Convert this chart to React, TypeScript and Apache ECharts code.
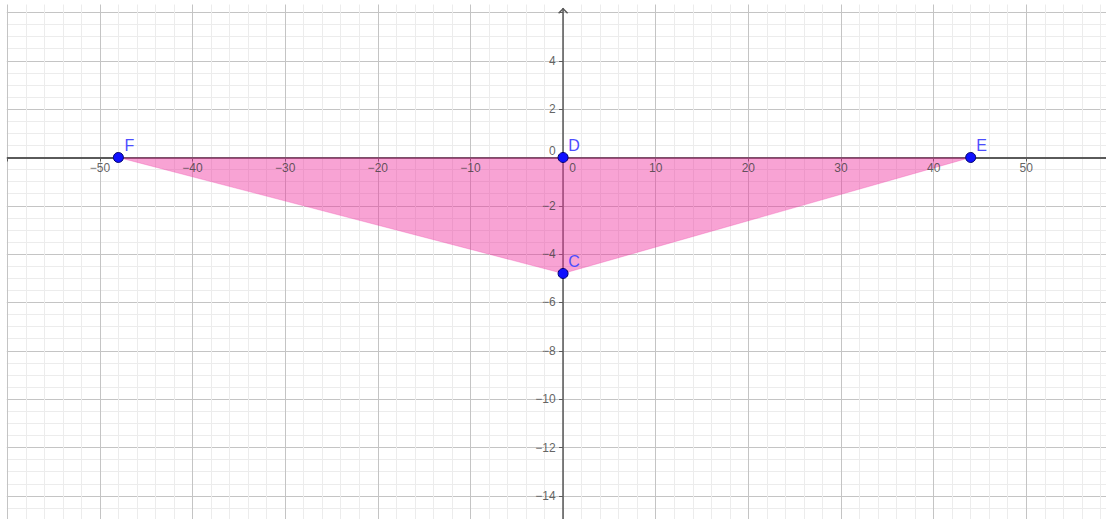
import React, { useEffect, useRef } from "react";
import * as echarts from "echarts";

// Points of the construction
const pointNames = ["F", "D", "E", "C"];
const pointX = [-48, 0, 44, 0];
const pointY = [0, 0, 0, -4.8];

// Polygon (triangle F-C-E), top edge lies on y = 0
const polyX = [-48, 0, 44];
const polyY = [0, -4.8, 0];

// Axis ranges / steps
const xRange = [-70, 60];
const yRange = [-16, 8];
const xStep = 10;
const yStep = 2;

// Tick labels shown along the axes
const xTickLabels = [-50, -40, -30, -20, -10, 0, 10, 20, 30, 40, 50];
const yTickLabels = [4, 2, 0, -2, -4, -6, -8, -10, -12, -14];

const fmt = (v: number) => (v < 0 ? "\u2212" + String(-v) : String(v));

export default function App() {
  const ref = useRef<HTMLDivElement>(null);
  useEffect(() => {
    const chart = echarts.init(ref.current!, null, { renderer: "svg" });
    const labelFont = "Liberation Sans, Arial, sans-serif";
    const tickLabelStyle = { color: "#3a3a3a", fontSize: 12, fontFamily: labelFont };
    chart.setOption({
      animation: false,
      backgroundColor: "#ffffff",
      grid: {
        left: -85.4,
        right: -12.9,
        top: -35.9,
        bottom: -25.2,
        containLabel: false,
        outerBoundsMode: "none",
      },
      xAxis: {
        type: "value",
        min: xRange[0],
        max: xRange[1],
        interval: xStep,
        axisLine: { onZero: true, lineStyle: { color: "#5a5a5a", width: 2 } },
        axisTick: { show: true, length: 4, lineStyle: { color: "#5a5a5a" } },
        minorTick: { show: false, splitNumber: 5 },
        splitLine: { show: true, lineStyle: { color: "#c4c4c4", width: 1 } },
        minorSplitLine: { show: true, lineStyle: { color: "#ececec", width: 1 } },
        axisLabel: { show: false },
      },
      yAxis: {
        type: "value",
        min: yRange[0],
        max: yRange[1],
        interval: yStep,
        axisLine: { onZero: true, lineStyle: { color: "#5a5a5a", width: 1.5 } },
        axisTick: { show: true, length: 4, lineStyle: { color: "#5a5a5a" } },
        minorTick: { show: false, splitNumber: 4 },
        splitLine: { show: true, lineStyle: { color: "#c4c4c4", width: 1 } },
        minorSplitLine: { show: true, lineStyle: { color: "#ececec", width: 1 } },
        axisLabel: { show: false },
      },
      graphic: [
        { type: "rect", shape: { x: 0, y: 0, width: 6.8, height: 519 }, style: { fill: "#fff" }, z: 100 },
        { type: "rect", shape: { x: 0, y: 0, width: 1106, height: 4.5 }, style: { fill: "#fff" }, z: 100 },
        { type: "rect", shape: { x: 561, y: 0, width: 4.5, height: 8 }, style: { fill: "#fff" }, z: 100 },
        {
          type: "polyline",
          shape: { points: [[558.6, 13.2], [563.1, 8.7], [567.6, 13.2]] },
          style: { stroke: "#5a5a5a", lineWidth: 1.5, fill: "none" },
          z: 101,
        },
      ],
      series: [
        {
          type: "line",
          data: polyX.map((x, i) => [x, polyY[i]]),
          symbol: "none",
          lineStyle: { width: 1, color: "rgba(240,60,165,0.3)" },
          areaStyle: { color: "rgba(240,50,160,0.45)", opacity: 1, origin: 0 },
          z: 2,
          silent: true,
        },
        {
          // x tick labels along y = 0
          type: "scatter",
          data: xTickLabels.map((v) => ({
            value: [v, 0],
            label: { offset: [v === 0 ? 9.5 : 0, 11] },
          })),
          symbolSize: 1,
          itemStyle: { color: "rgba(0,0,0,0)" },
          label: {
            show: true,
            position: "inside",
            ...tickLabelStyle,
            formatter: (p: any) => fmt(p.value[0]),
          },
          z: 3,
          silent: true,
        },
        {
          // y tick labels along x = 0
          type: "scatter",
          data: yTickLabels.map((v) => ({
            value: [0, v],
            label: { offset: [0, v === 0 ? -6.5 : 0] },
          })),
          symbolSize: 1,
          itemStyle: { color: "rgba(0,0,0,0)" },
          label: {
            show: true,
            position: "left",
            distance: 7,
            ...tickLabelStyle,
            formatter: (p: any) => fmt(p.value[1]),
          },
          z: 3,
          silent: true,
        },
        {
          type: "scatter",
          data: pointNames.map((n, i) => [pointX[i], pointY[i], n]),
          symbolSize: 10,
          itemStyle: { color: "#1010ff", borderColor: "#00006e", borderWidth: 1, opacity: 1 },
          label: {
            show: true,
            position: "inside",
            offset: [11, -12],
            color: "#4d4dff",
            fontSize: 16,
            fontFamily: labelFont,
            formatter: (p: any) => p.data[2],
          },
          z: 5,
        },
      ],
    });
    return () => chart.dispose();
  }, []);
  return (
    <div
      ref={ref}
      style={{ position: "fixed", left: 0, top: 0, width: 1106, height: 519, background: "#fff" }}
    />
  );
}
